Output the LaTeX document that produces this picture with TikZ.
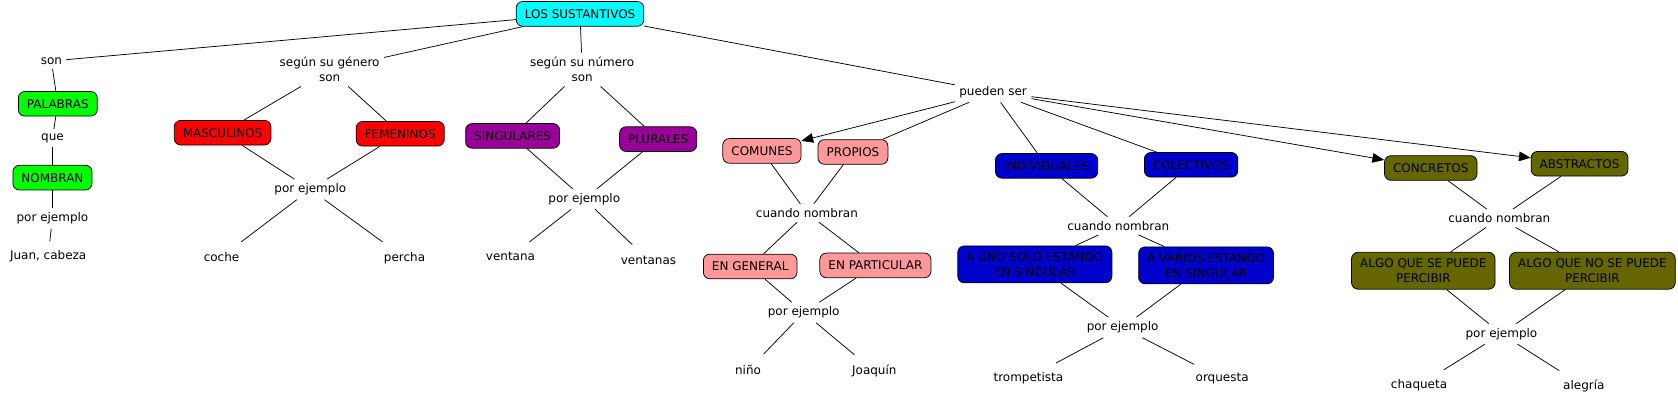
\documentclass[tikz,border=0pt]{standalone}
\usepackage{fontspec}
\setmainfont{DejaVu Sans}
\usetikzlibrary{arrows.meta}
\definecolor{cian}{HTML}{00FFFF}
\definecolor{verde}{HTML}{00FF00}
\definecolor{rojo}{HTML}{FF0000}
\definecolor{morado}{HTML}{990099}
\definecolor{rosa}{HTML}{FF9999}
\definecolor{azul}{HTML}{0000CC}
\definecolor{oliva}{HTML}{666600}
\begin{document}
\begin{tikzpicture}[x=1pt, y=-1pt,
    font=\fontsize{11.2}{14}\selectfont,
    concepto/.style={draw, line width=0.7pt, rounded corners=6pt, align=center,
        inner xsep=8pt, inner ysep=6pt, minimum height=23pt},
    enlace/.style={align=center, inner sep=4pt},
    ejemplo/.style={inner sep=4pt},
    linea/.style={line width=0.7pt},
    flecha/.style={line width=0.7pt, -{Triangle[length=11pt,width=9pt]}},
    hoja/.style={line width=0.7pt, shorten >=9pt}]
    \useasboundingbox (0,0) rectangle (1568,377);

    \node[concepto, fill=cian] (sust) at (542,13) {LOS SUSTANTIVOS};

    % son palabras que nombran
    \node[enlace] (son) at (48,57) {son};
    \node[concepto, fill=verde] (palabras) at (54,97) {PALABRAS};
    \node[enlace] (que) at (49,129) {que};
    \node[concepto, fill=verde] (nombran) at (49,166) {NOMBRAN};
    \node[enlace] (pe1) at (49,204) {por ejemplo};
    \node[ejemplo] (juan) at (45,239) {Juan, cabeza};

    % genero
    \node[enlace] (genero) at (308,65) {según su género\\son};
    \node[concepto, fill=rojo] (masc) at (208,124) {MASCULINOS};
    \node[concepto, fill=rojo] (fem) at (374,125) {FEMENINOS};
    \node[enlace] (pe2) at (290,177) {por ejemplo};
    \node[ejemplo] (coche) at (207,240) {coche};
    \node[ejemplo] (percha) at (378,241) {percha};

    % numero
    \node[enlace] (numero) at (544,65) {según su número\\son};
    \node[concepto, fill=morado] (sing) at (479,127) {SINGULARES};
    \node[concepto, fill=morado] (plur) at (615,130) {PLURALES};
    \node[enlace] (pe3) at (546,186) {por ejemplo};
    \node[ejemplo] (ventana) at (477,240) {ventana};
    \node[ejemplo] (ventanas) at (606,243) {ventanas};

    \node[enlace] (pueden) at (928,86) {pueden ser};

    % comunes y propios
    \node[concepto, fill=rosa] (comunes) at (712,141) {COMUNES};
    \node[concepto, fill=rosa] (propios) at (797,142) {PROPIOS};
    \node[enlace] (cn1) at (754,199) {cuando nombran};
    \node[concepto, fill=rosa] (general) at (701,249) {EN GENERAL};
    \node[concepto, fill=rosa] (particular) at (818,248) {EN PARTICULAR};
    \node[enlace] (pe4) at (751,292) {por ejemplo};
    \node[ejemplo] (nino) at (699,346) {niño};
    \node[ejemplo] (joaquin) at (817,347) {Joaquín};

    % individuales y colectivos
    \node[concepto, fill=azul] (indiv) at (978,155) {INDIVIDUALES};
    \node[concepto, fill=azul] (colect) at (1113,154) {COLECTIVOS};
    \node[enlace] (cn2) at (1045,211) {cuando nombran};
    \node[concepto, fill=azul] (unosolo) at (967,247) {A UNO SOLO ESTANDO\\EN SINGULAR};
    \node[concepto, fill=azul] (varios) at (1127,248) {A VARIOS ESTANDO\\EN SINGULAR};
    \node[enlace] (pe5) at (1049,306) {por ejemplo};
    \node[ejemplo] (trompetista) at (961,353) {trompetista};
    \node[ejemplo] (orquesta) at (1142,354) {orquesta};

    % concretos y abstractos
    \node[concepto, fill=oliva] (concretos) at (1337,157) {CONCRETOS};
    \node[concepto, fill=oliva] (abstractos) at (1476,153) {ABSTRACTOS};
    \node[enlace] (cn3) at (1401,204) {cuando nombran};
    \node[concepto, fill=oliva] (percibe) at (1330,253) {ALGO QUE SE PUEDE\\PERCIBIR};
    \node[concepto, fill=oliva] (nopercibe) at (1488,253) {ALGO QUE NO SE PUEDE\\PERCIBIR};
    \node[enlace] (pe6) at (1403,312) {por ejemplo};
    \node[ejemplo] (chaqueta) at (1326,360) {chaqueta};
    \node[ejemplo] (alegria) at (1480,361) {alegría};

    \draw[linea] (sust) -- (son);
    \draw[linea] (sust) -- (genero);
    \draw[linea] (sust) -- (numero);
    \draw[linea] (sust) -- (pueden);

    \draw[linea] (son) -- (palabras);
    \draw[linea] (palabras) -- (que);
    \draw[linea] (que) -- (nombran);
    \draw[linea] (nombran) -- (pe1);
    \draw[linea, shorten >=4pt] (pe1) -- (juan);

    \draw[linea] (genero) -- (masc);
    \draw[linea] (genero) -- (fem);
    \draw[linea] (masc) -- (pe2);
    \draw[linea] (fem) -- (pe2);
    \draw[hoja] (pe2) -- (coche);
    \draw[hoja] (pe2) -- (percha);

    \draw[linea] (numero) -- (sing);
    \draw[linea] (numero) -- (plur);
    \draw[linea] (sing) -- (pe3);
    \draw[linea] (plur) -- (pe3);
    \draw[hoja] (pe3) -- (ventana);
    \draw[hoja] (pe3) -- (ventanas);

    \draw[flecha] (pueden) -- (comunes);
    \draw[linea] (pueden) -- (propios);
    \draw[linea] (pueden) -- (indiv);
    \draw[linea] (pueden) -- (colect);
    \draw[flecha] (pueden) -- (concretos);
    \draw[flecha] (pueden) -- (abstractos);

    \draw[linea] (comunes) -- (cn1);
    \draw[linea] (propios) -- (cn1);
    \draw[linea] (cn1) -- (general);
    \draw[linea] (cn1) -- (particular);
    \draw[linea] (general) -- (pe4);
    \draw[linea] (particular) -- (pe4);
    \draw[hoja] (pe4) -- (nino);
    \draw[hoja] (pe4) -- (joaquin);

    \draw[linea] (indiv) -- (cn2);
    \draw[linea] (colect) -- (cn2);
    \draw[linea] (cn2) -- (unosolo);
    \draw[linea] (cn2) -- (varios);
    \draw[linea] (unosolo) -- (pe5);
    \draw[linea] (varios) -- (pe5);
    \draw[hoja] (pe5) -- (trompetista);
    \draw[hoja] (pe5) -- (orquesta);

    \draw[linea] (concretos) -- (cn3);
    \draw[linea] (abstractos) -- (cn3);
    \draw[linea] (cn3) -- (percibe);
    \draw[linea] (cn3) -- (nopercibe);
    \draw[linea] (percibe) -- (pe6);
    \draw[linea] (nopercibe) -- (pe6);
    \draw[hoja] (pe6) -- (chaqueta);
    \draw[hoja] (pe6) -- (alegria);
\end{tikzpicture}
\end{document}
